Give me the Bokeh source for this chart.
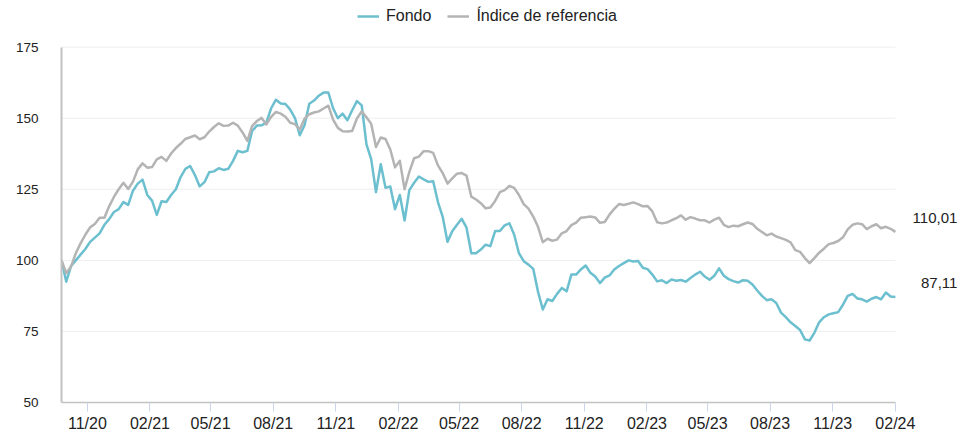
import pandas as pd
from bokeh.plotting import figure
from bokeh.models import (Range1d, FixedTicker, DatetimeTickFormatter, Legend,
                          LegendItem, ColumnDataSource, Label)
from bokeh.embed import file_html
from bokeh.resources import INLINE

# ---------------- data (weekly readings from the chart) ----------------
start_date = "2020-09-24"

fondo = [
    100, 92.5, 98, 100, 102, 104, 106.5, 108, 109.5, 112.5,
    114.5, 117, 118, 120.5, 119.5, 124.5, 127, 128.4, 123, 121,
    116, 120.8, 120.5, 123, 125, 129.3, 132.2, 133.2, 130, 126,
    127.5, 131, 131.3, 132.4, 131.8, 132.2, 135, 138.5, 138, 138.5,
    145.5, 147.4, 147.5, 148.5, 153.5, 156.5, 155.2, 155, 153, 150,
    144, 147.5, 155.1, 156.2, 157.9, 159, 159, 153.5, 150, 151.6,
    149.3, 152.8, 156, 154.5, 140.8, 135.5, 124, 133.8, 125.5, 126,
    118, 123, 114, 124.7, 127.3, 129.5, 128.5, 127.6, 127.8, 120.5,
    115.3, 106.5, 110.2, 112.5, 114.6, 111.5, 102.5, 102.5, 103.8, 105.5,
    105, 110.3, 110.3, 112.3, 113, 109, 102.5, 99.7, 98.5, 97,
    89, 82.7, 86.3, 85.7, 88.2, 90.3, 89.1, 95, 95, 96.8,
    98.2, 95.6, 94.3, 92, 93.9, 94.7, 96.8, 98, 99, 100,
    99.6, 99.8, 97.4, 96.9, 95, 92.6, 93, 92, 93.3, 92.8,
    93.1, 92.5, 93.8, 95, 96, 94.3, 93.2, 94.6, 97.2, 94.6,
    93.4, 92.7, 92.2, 93, 92.8, 91.5, 89.4, 87.5, 86, 86.3,
    85, 81.6, 80, 78.2, 76.9, 75.5, 72.2, 71.8, 74.5, 78.2,
    80, 81, 81.4, 81.8, 84.4, 87.5, 88.2, 86.6, 86.3, 85.5,
    86.5, 87.1, 86.3, 88.7, 87.3, 87.11,
]

indice = [
    100, 95.5, 97.8, 102.5, 106, 109, 111.6, 112.8, 115, 115,
    119, 122.3, 125, 127.3, 125.1, 127.7, 132, 134.1, 132.6, 132.8,
    135.5, 136.4, 135, 137.6, 139.5, 141, 142.7, 143.3, 143.9, 142.6,
    143.3, 145.3, 146.9, 148.2, 147.3, 147.4, 148.4, 147.4, 145, 142,
    147.2, 149, 150.1, 147.8, 150.5, 152.2, 151.6, 150.5, 148.4, 147.9,
    146, 149.8, 151.4, 152, 152.4, 153.4, 154.4, 149.5, 146.6, 145.4,
    145.3, 145.5, 149.9, 152.4, 150.3, 148, 139.9, 143.2, 142.7, 139,
    132.7, 135, 125, 131.1, 135.9, 136.5, 138.4, 138.4, 137.8, 133.4,
    130.7, 127, 128.8, 130.5, 130.7, 129.8, 122.4, 121.4, 120.1, 118.3,
    118.6, 120.9, 124, 124.7, 126.2, 125.5, 123, 119.8, 118.2, 115.4,
    111.8, 106.4, 107.6, 106.9, 107.3, 109.5, 110.3, 112.4, 113.3, 115,
    115.2, 115.4, 115.1, 113.2, 113.5, 116.1, 118.1, 119.8, 119.5, 119.9,
    120.4, 119.8, 119, 119.1, 117.2, 113.4, 113, 113.3, 114.1, 114.8,
    115.8, 114.3, 115.2, 114.7, 114.1, 114.1, 113.3, 114.3, 115, 112.5,
    111.7, 112.2, 112, 112.7, 113.3, 112.8, 111.1, 110, 108.8, 109.4,
    108.4, 107.8, 107.2, 106.3, 103.6, 103, 100.8, 99, 100.8, 102.7,
    104.1, 105.7, 106.1, 106.8, 108.1, 110.9, 112.5, 113, 112.7, 111,
    112, 112.7, 111.3, 111.8, 111.1, 110.01,
]

tick_dates = ["2020-11-01", "2021-02-01", "2021-05-01", "2021-08-01",
              "2021-11-01", "2022-02-01", "2022-05-01", "2022-08-01",
              "2022-11-01", "2023-02-01", "2023-05-01", "2023-08-01",
              "2023-11-01", "2024-02-01"]
y_ticks = [50, 75, 100, 125, 150, 175]
series_names = ["Fondo", "Índice de referencia"]
series_colors = ["#6cbfcf", "#b4b4b4"]

# ---------------- layout / style constants ----------------
FONT = "Liberation Sans"
TXT = "#222222"
Y_MIN, Y_MAX = 50, 175
Y_HEADROOM = 16.4        # room above the 175 line for the legend (data units)
RIGHT_PAD_DAYS = 103     # room right of the last date for the end labels

dates = pd.date_range(start_date, periods=len(fondo), freq="7D")
src = ColumnDataSource(dict(date=dates, fondo=fondo, indice=indice))
t0_ms = dates[0].value / 1e6
t1_ms = dates[-1].value / 1e6

p = figure(x_axis_type="datetime", frame_width=904, frame_height=402,
           min_border_left=61, min_border_right=6, min_border_top=0,
           min_border_bottom=10, output_backend="svg", toolbar_location=None,
           x_range=Range1d(dates[0], dates[-1] + pd.Timedelta(days=RIGHT_PAD_DAYS)),
           y_range=Range1d(Y_MIN, Y_MAX + Y_HEADROOM))
p.outline_line_color = None
p.background_fill_color = "white"
p.border_fill_color = "white"
p.xgrid.visible = False
p.ygrid.visible = False

# horizontal grid lines, limited to the data's time span
grid_src = ColumnDataSource(dict(y=y_ticks[1:], x0=[dates[0]] * (len(y_ticks) - 1),
                                 x1=[dates[-1]] * (len(y_ticks) - 1)))
p.segment(x0="x0", y0="y", x1="x1", y1="y", source=grid_src,
          line_color="#eeeeee", line_width=1)

p.yaxis.ticker = FixedTicker(ticks=y_ticks)
p.yaxis.bounds = (Y_MIN, Y_MAX)
p.yaxis.major_tick_line_color = None
p.yaxis.minor_tick_line_color = None
p.yaxis.axis_line_color = "#c2c2c2"
p.yaxis.axis_line_width = 2
p.yaxis.major_label_standoff = 17
p.yaxis.major_label_text_font = FONT
p.yaxis.major_label_text_font_size = "13.5px"
p.yaxis.major_label_text_color = TXT

tick_ms = [pd.Timestamp(d).value / 1e6 for d in tick_dates]
p.xaxis.ticker = FixedTicker(ticks=tick_ms)
p.xaxis.bounds = (t0_ms, t1_ms)
p.xaxis.formatter = DatetimeTickFormatter(days="%m/%y", months="%m/%y", years="%m/%y")
p.xaxis.major_tick_in = 0
p.xaxis.major_tick_out = 9
p.xaxis.major_tick_line_color = "#ccd6eb"
p.xaxis.minor_tick_line_color = None
p.xaxis.axis_line_color = "#c2c2c2"
p.xaxis.axis_line_width = 1.5
p.xaxis.major_label_standoff = 3
p.xaxis.major_label_text_font = FONT
p.xaxis.major_label_text_font_size = "16px"
p.xaxis.major_label_text_color = TXT

r_f = p.line("date", "fondo", source=src, line_color=series_colors[0],
             line_width=2.5, line_join="round")
r_i = p.line("date", "indice", source=src, line_color=series_colors[1],
             line_width=2.5, line_join="round")

legend = Legend(items=[LegendItem(label=series_names[0], renderers=[r_f]),
                       LegendItem(label=series_names[1], renderers=[r_i])],
                location=(296, 377), orientation="horizontal",
                background_fill_alpha=0, border_line_color=None,
                padding=0, margin=0, spacing=16, glyph_width=22,
                glyph_height=16, label_standoff=7, label_height=16,
                label_text_font=FONT, label_text_font_size="16px",
                label_text_color=TXT)
p.add_layout(legend)

for vals in (indice, fondo):
    p.add_layout(Label(x=t1_ms, y=vals[-1],
                       text=f"{vals[-1]:.2f}".replace(".", ","),
                       x_offset=62, y_offset=14, text_align="right",
                       text_baseline="middle", text_font=FONT,
                       text_font_size="15px", text_color=TXT))

open("out.html", "w").write(file_html(p, INLINE))
